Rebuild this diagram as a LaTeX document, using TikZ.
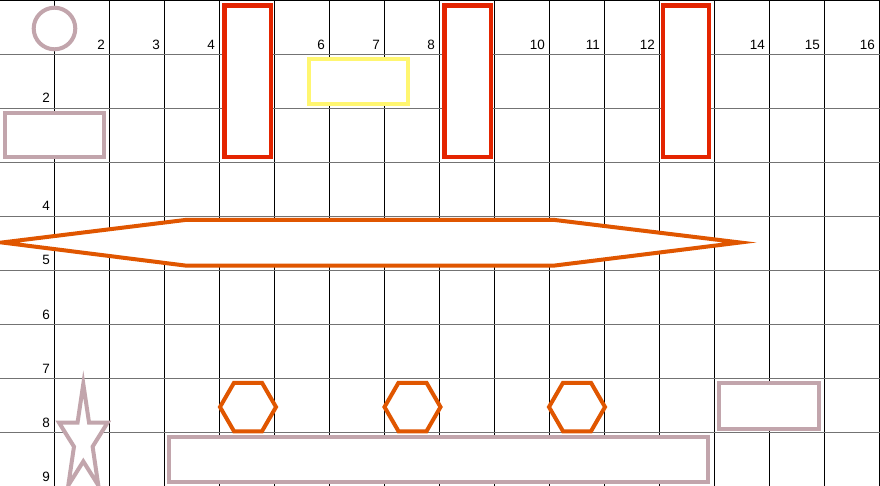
\documentclass[tikz,border=0pt]{standalone}
\usepackage{fontspec}
\setmainfont{Liberation Sans}
\definecolor{pinkgray}{RGB}{194,165,172}
\definecolor{redline}{RGB}{228,36,0}
\definecolor{orangeline}{RGB}{224,86,0}
\definecolor{yellowline}{RGB}{255,246,112}
\tikzset{
  vline/.style={black, line width=0.9pt},
  hline/.style={black!55, line width=1.3pt},
  lbl/.style={font=\fontsize{13.5}{14}\selectfont, inner sep=0pt, anchor=base east},
  pinkshape/.style={draw=pinkgray, line width=4pt, fill=white},
  redshape/.style={draw=redline, line width=4.2pt, fill=white},
  orangeshape/.style={draw=orangeline, line width=4pt, fill=white, line join=miter},
  yellowshape/.style={draw=yellowline, line width=4pt, fill=white}
}
\begin{document}
\begin{tikzpicture}[x=1pt,y=-1pt]
\useasboundingbox (0,0) rectangle (880,486);
\clip (0,0) rectangle (880,486);
\fill[white] (0,0) rectangle (880,486);
% grid
\foreach \k in {0,...,15} \draw[vline] ({54.5+55*\k},0) -- ({54.5+55*\k},486);
\draw[vline] (0,0.5) -- (880,0.5);
\foreach \k in {1,...,8} \draw[hline] (0,{54*\k+0.5}) -- (880,{54*\k+0.5});
% column labels
\foreach \n in {2,3,4,6,7,8,10,11,12,14,15,16}
  \node[lbl] (c\n) at ({54.5+55*(\n-1)-4.5},49.5) {\n};
% row labels
\foreach \n in {2,4,5,6,7,8,9}
  \node[lbl] (r\n) at (50,{54*\n+0.5-5.5}) {\n};
% shapes
\draw[pinkshape] (54.5,28.5) circle (20.8);
\draw[pinkshape] (5.3,112.7) rectangle (104,157.3);
\draw[redshape] (224.5,5.5) rectangle (271.2,157.2);
\draw[redshape] (444.5,5.5) rectangle (491.2,157.2);
\draw[redshape] (662.8,5.5) rectangle (709,157.2);
\draw[yellowshape] (309.3,58.7) rectangle (408,104);
\draw[orangeshape] (2,242.5) -- (185,220) -- (555,220) -- (740,242.5) -- (555,265.5) -- (185,265.5) -- cycle;
\foreach \cx in {248,412.5,577}
  \draw[orangeshape] ({\cx+28},407) -- ({\cx+14},{407-24.25}) -- ({\cx-14},{407-24.25}) -- ({\cx-28},407) -- ({\cx-14},{407+24.25}) -- ({\cx+14},{407+24.25}) -- cycle;
\draw[pinkshape, line join=miter, miter limit=20]
  plot[samples at={90,126,...,414}] ({83.3+ifthenelse(mod(round((\x-90)/36),2)==0,25.5,9.8)*cos(\x)},
       {440-ifthenelse(mod(round((\x-90)/36),2)==0,56,21.4)*sin(\x)}) -- cycle;
\draw[pinkshape] (168.7,437) rectangle (708,482.3);
\draw[pinkshape] (719.3,383) rectangle (818.7,428.7);
\end{tikzpicture}
\end{document}
